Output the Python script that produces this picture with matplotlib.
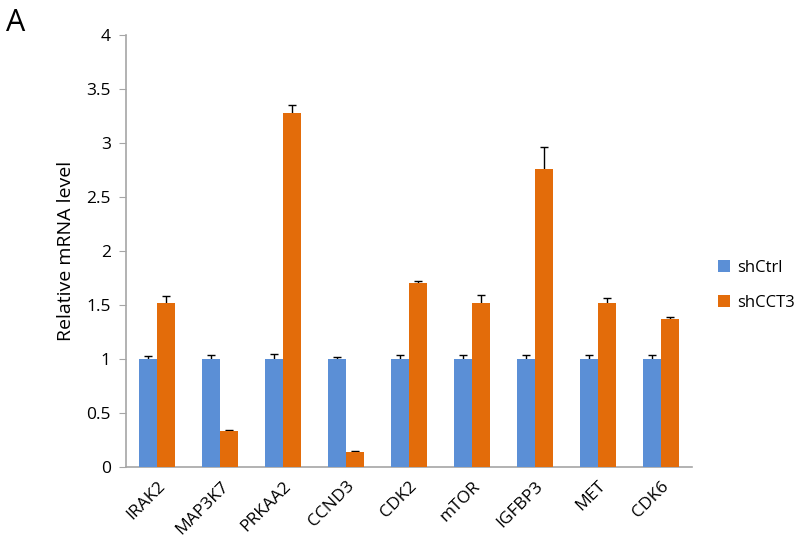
import numpy as np
import matplotlib
matplotlib.use("Agg")
import matplotlib.pyplot as plt

plt.rcParams['font.family'] = ['Open Sans', 'DejaVu Sans']

genes = ['IRAK2', 'MAP3K7', 'PRKAA2', 'CCND3', 'CDK2', 'mTOR', 'IGFBP3', 'MET', 'CDK6']
ctrl = [1, 1, 1, 1, 1, 1, 1, 1, 1]
ctrl_err = [0.025, 0.04, 0.05, 0.02, 0.04, 0.04, 0.04, 0.04, 0.04]
cct3 = [1.52, 0.335, 3.28, 0.14, 1.70, 1.515, 2.76, 1.52, 1.37]
cct3_err = [0.06, 0.005, 0.07, 0.005, 0.025, 0.075, 0.20, 0.045, 0.015]

blue = '#5B8FD6'
orange = '#E36C0A'

fig = plt.figure(figsize=(8, 5.55), dpi=100)
ax = fig.add_axes([0.1575, 0.1586, 0.7075, 0.7784])

x = np.arange(len(genes))
w = 0.286
ax.bar(x - w / 2, ctrl, w, color=blue, label='shCtrl', zorder=3)
ax.bar(x + w / 2, cct3, w, color=orange, label='shCCT3', zorder=3)
# upward-only error bars: lower cap sits under the bar
ax.errorbar(x - w / 2, ctrl, yerr=ctrl_err, fmt='none', ecolor='black',
            elinewidth=1, capsize=3, capthick=1, zorder=2)
ax.errorbar(x + w / 2, cct3, yerr=cct3_err, fmt='none', ecolor='black',
            elinewidth=1, capsize=3, capthick=1, zorder=2)

ax.set_xlim(-0.5, len(genes) - 0.5)
ax.set_ylim(0, 4)
ax.set_yticks(np.arange(0, 4.01, 0.5))
ax.set_yticklabels(['0', '0.5', '1', '1.5', '2', '2.5', '3', '3.5', '4'])
ax.set_xticks(x)
ax.set_xticklabels(genes, rotation=45, ha='right', rotation_mode='anchor')
ax.tick_params(axis='x', length=0, pad=8, labelsize=12.5)
ax.tick_params(axis='y', length=5, color='#A6A6A6', pad=6, labelsize=12.5)

for s in ['top', 'right']:
    ax.spines[s].set_visible(False)
for s in ['left', 'bottom']:
    ax.spines[s].set_color('#A6A6A6')
    ax.spines[s].set_linewidth(1.2)

ax.set_ylabel('Relative mRNA level', fontsize=14, labelpad=8)

ax.legend(loc='center left', bbox_to_anchor=(1.02, 0.42), frameon=False, fontsize=12,
          handlelength=0.7, handleheight=0.7, handletextpad=0.4, labelspacing=1.15)

fig.text(0.008, 0.945, 'A', fontsize=22)

fig.savefig('out.png', dpi=100)
